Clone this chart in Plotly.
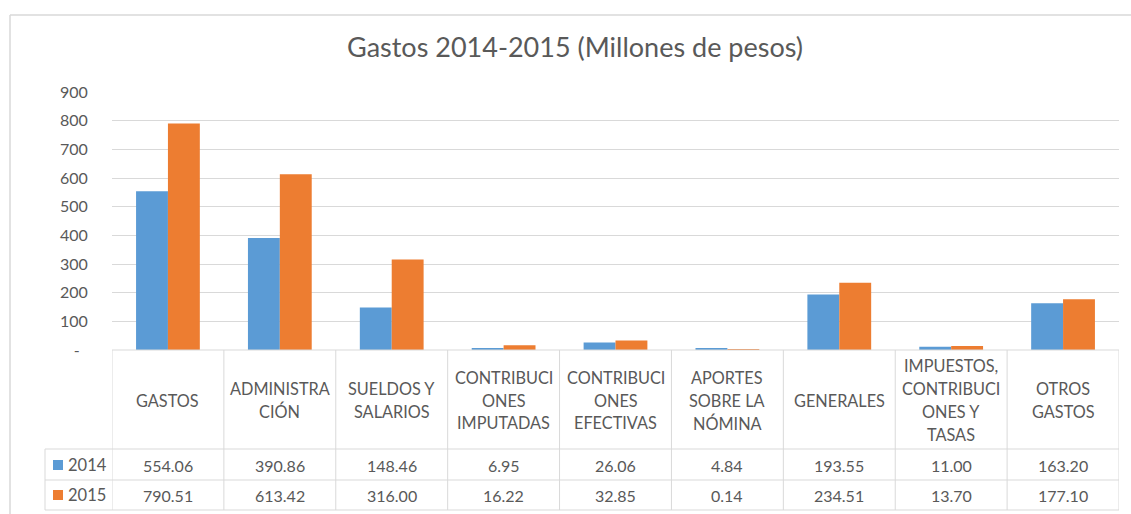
import plotly.graph_objects as go

# ---------------- data ----------------
categorias = [
    "GASTOS",
    "ADMINISTRA\nCIÓN",
    "SUELDOS Y\nSALARIOS",
    "CONTRIBUCI\nONES\nIMPUTADAS",
    "CONTRIBUCI\nONES\nEFECTIVAS",
    "APORTES\nSOBRE LA\nNÓMINA",
    "GENERALES",
    "IMPUESTOS,\nCONTRIBUCI\nONES Y\nTASAS",
    "OTROS\nGASTOS",
]
series = ["2014", "2015"]
valores_2014 = [554.06, 390.86, 148.46, 6.95, 26.06, 4.84, 193.55, 11.00, 163.20]
valores_2015 = [790.51, 613.42, 316.00, 16.22, 32.85, 0.14, 234.51, 13.70, 177.10]
ticks_y = [0, 100, 200, 300, 400, 500, 600, 700, 800, 900]
etiquetas_y = ["-\u00a0\u00a0", "100", "200", "300", "400", "500", "600", "700", "800", "900"]
titulo = "Gastos 2014-2015 (Millones de pesos)"

# ---------------- style ----------------
W, H = 1131, 514
L, R, T, B = 112, 1119, 92, 350
COLORES = ["#5B9BD5", "#ED7D31"]
TXT = "#595959"
GRID = "#D9D9D9"
FONT = "Lato"


def pxx(x):
    return (x - L) / (R - L)


def pyy(y):
    return (B - y) / (B - T)


n = len(categorias)
idx = list(range(n))
valores = [valores_2014, valores_2015]

fig = go.Figure()
for s, vals, col in zip(series, valores, COLORES):
    fig.add_trace(go.Bar(x=idx, y=vals, name=s, marker=dict(color=col, line=dict(width=0)),
                         hoverinfo="x+y"))

shapes = []
annotations = []

# outer chart border (top and left)
shapes.append(dict(type="line", xref="paper", yref="paper", x0=pxx(10), x1=pxx(1140),
                   y0=pyy(15), y1=pyy(15), line=dict(color=GRID, width=1.5)))
shapes.append(dict(type="line", xref="paper", yref="paper", x0=pxx(10), x1=pxx(10),
                   y0=pyy(15), y1=pyy(520), line=dict(color=GRID, width=1.5)))

# table grid
ROW_HDR_BOT, ROW1_BOT, ROW2_BOT = 449, 480, 510
for k in range(n + 1):
    shapes.append(dict(type="line", xref="x", yref="paper", x0=k - 0.5, x1=k - 0.5,
                       y0=pyy(B), y1=pyy(ROW2_BOT), line=dict(color=GRID, width=1)))
shapes.append(dict(type="line", xref="paper", yref="paper", x0=pxx(45), x1=pxx(45),
                   y0=pyy(ROW_HDR_BOT), y1=pyy(ROW2_BOT), line=dict(color=GRID, width=1)))
shapes.append(dict(type="line", xref="x", yref="paper", x0=-0.5, x1=n - 0.5,
                   y0=pyy(B), y1=pyy(B), line=dict(color=GRID, width=1)))
for yy in (ROW_HDR_BOT, ROW1_BOT, ROW2_BOT):
    shapes.append(dict(type="line", xref="paper", yref="paper", x0=pxx(45), x1=1,
                       y0=pyy(yy), y1=pyy(yy), line=dict(color=GRID, width=1)))

# header labels
HDR_C = 400
LINE_H = 22.8
for i, cat in enumerate(categorias):
    lines = cat.split("\n")
    m = len(lines)
    for j, ln in enumerate(lines):
        yc = HDR_C + (j - (m - 1) / 2) * LINE_H
        annotations.append(dict(x=i, xref="x", y=pyy(yc), yref="paper", text=ln,
                                showarrow=False, xanchor="center", yanchor="middle",
                                font=dict(family=FONT, size=16.3, color=TXT)))

# data rows + legend keys
row_centers = [465, 495]
for s, vals, col, yc in zip(series, valores, COLORES, row_centers):
    for i, v in enumerate(vals):
        annotations.append(dict(x=i, xref="x", y=pyy(yc), yref="paper", text=f"{v:.2f}",
                                showarrow=False, xanchor="center", yanchor="middle",
                                font=dict(family=FONT, size=16, color=TXT)))
    shapes.append(dict(type="rect", xref="paper", yref="paper", x0=pxx(53), x1=pxx(63),
                       y0=pyy(yc + 5), y1=pyy(yc - 5), fillcolor=col, line=dict(width=0)))
    annotations.append(dict(x=pxx(66), xref="paper", y=pyy(yc), yref="paper", text=s,
                            showarrow=False, xanchor="left", yanchor="middle",
                            font=dict(family=FONT, size=16.5, color=TXT)))

fig.update_layout(
    width=W, height=H,
    margin=dict(l=L, r=W - R, t=T, b=H - B, pad=0),
    paper_bgcolor="white", plot_bgcolor="white",
    showlegend=False,
    barmode="group", bargap=0.43, bargroupgap=0,
    title=dict(text=titulo, x=575 / W, xanchor="center", y=1 - 48 / H, yanchor="middle",
               font=dict(family=FONT, size=27, color=TXT)),
    xaxis=dict(range=[-0.5, n - 0.5], showticklabels=False, showgrid=False, zeroline=False,
               showline=False, fixedrange=True),
    yaxis=dict(range=[0, 900], tickvals=ticks_y, ticktext=etiquetas_y, showgrid=True,
               gridcolor=GRID, gridwidth=1, zeroline=False, showline=False,
               ticks="outside", ticklen=20, tickcolor="rgba(0,0,0,0)",
               tickfont=dict(family=FONT, size=16, color=TXT), fixedrange=True),
    shapes=shapes,
    annotations=annotations,
)

fig.write_html("out.html", config={"displayModeBar": False},
               post_script="document.body.style.margin='0';document.body.style.overflow='hidden';")
